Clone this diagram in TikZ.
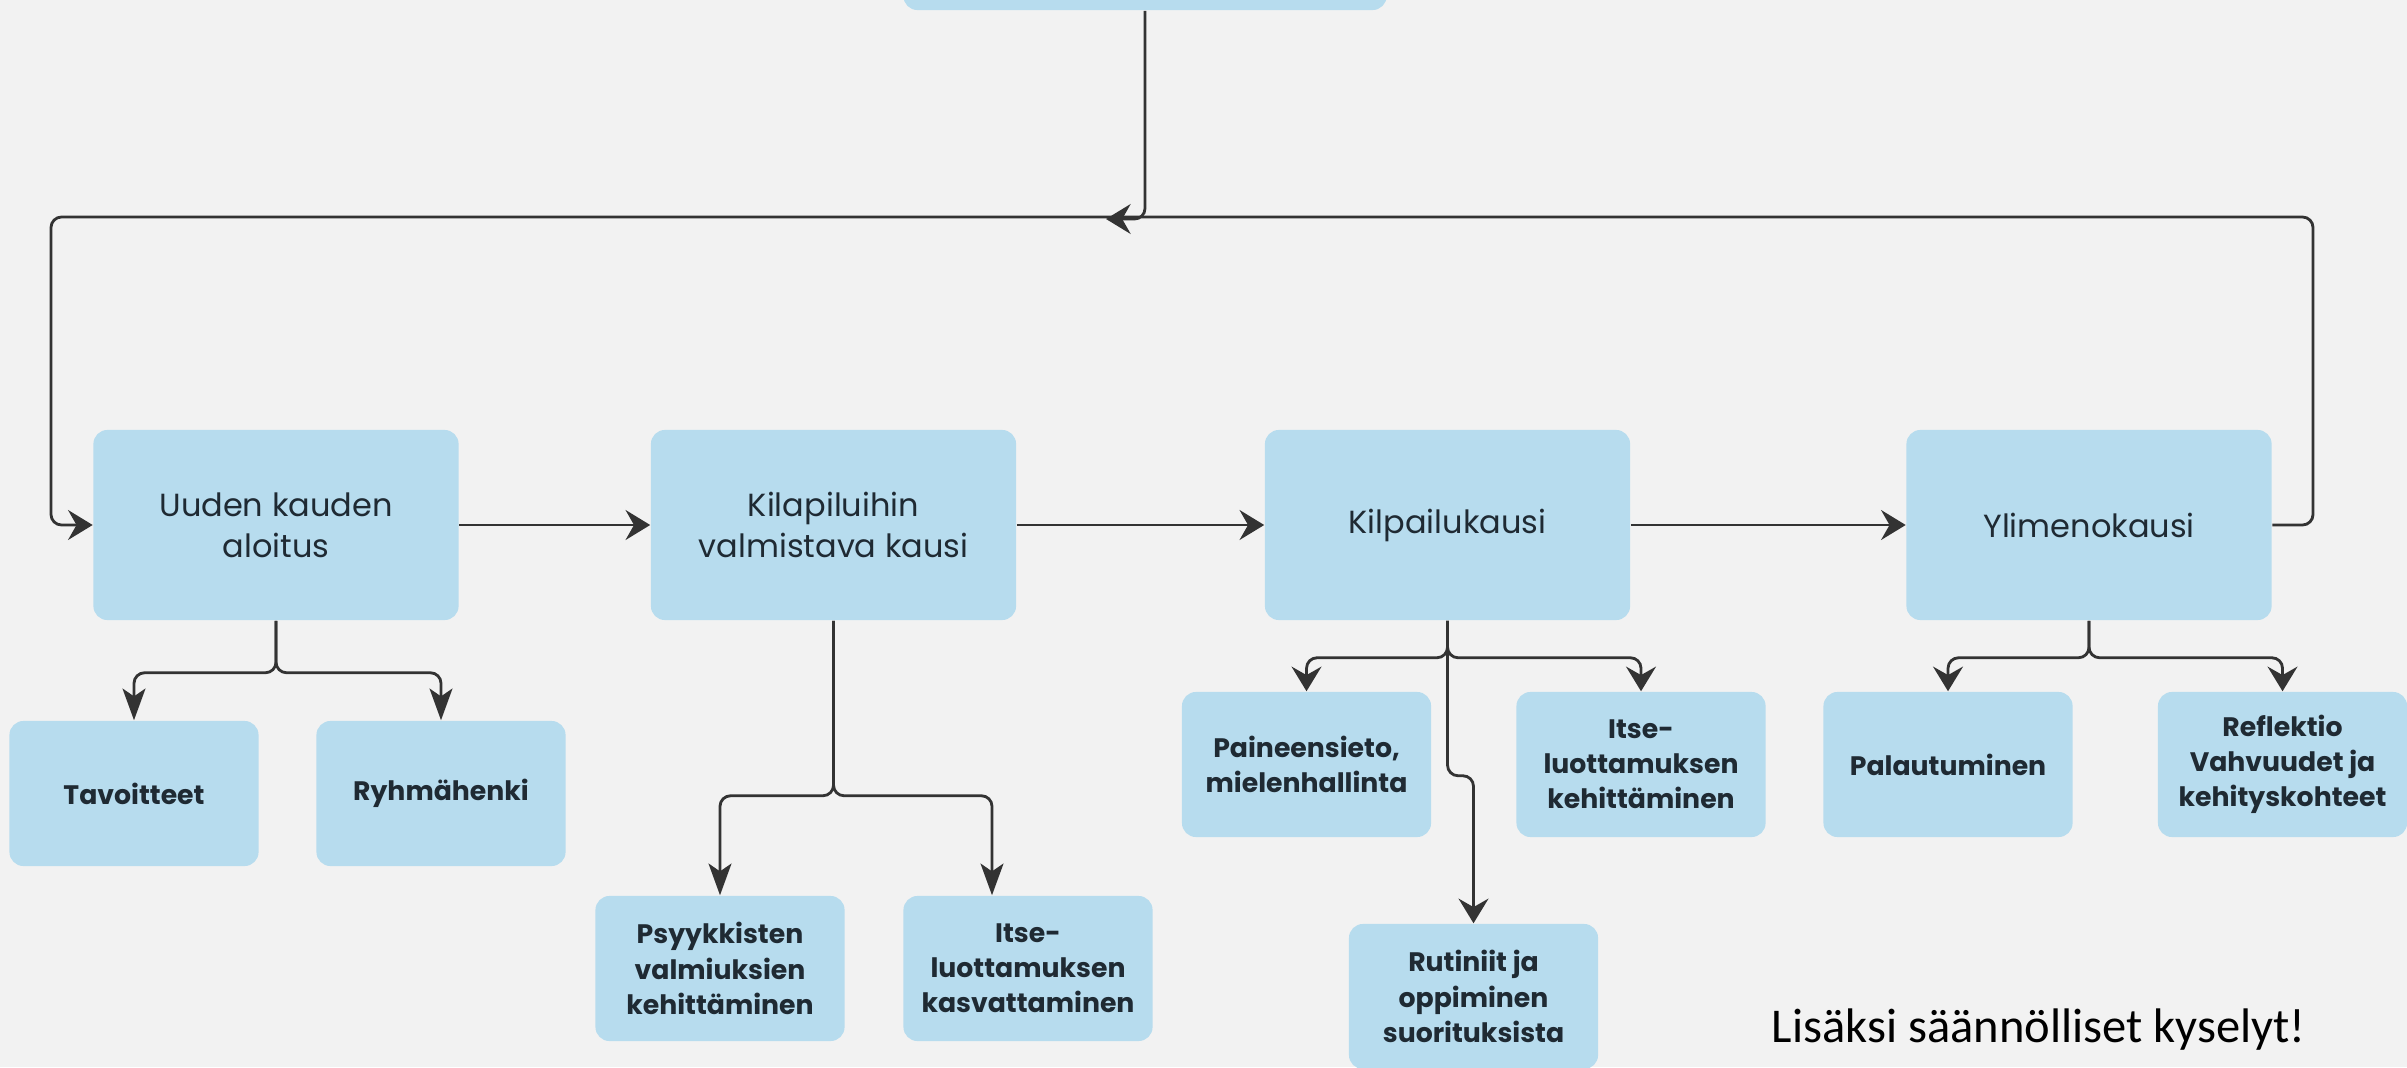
\documentclass[tikz,border=0pt]{standalone}
\usepackage{fontspec}
\setmainfont{Poppins}
\newfontfamily\notefont{Carlito}
\usetikzlibrary{arrows.meta}
\usetikzlibrary{calc}
\definecolor{tausta}{HTML}{F2F2F2}
\definecolor{laatikko}{HTML}{B7DCEE}
\definecolor{viiva}{HTML}{333333}
\definecolor{teksti}{HTML}{1F2A33}

\tikzset{
  vaihe/.style={rectangle, rounded corners=4pt, fill=laatikko, text=teksti, minimum width=3.65cm, minimum height=1.9cm, align=center, font=\fontsize{9.1}{11.7}\selectfont},
  osa/.style={rectangle, rounded corners=4pt, fill=laatikko, text=teksti, minimum width=2.49cm, minimum height=1.45cm, align=center, font=\bfseries\fontsize{7.6}{10}\selectfont},
  yhteys/.style={draw=viiva, line width=0.8pt, rounded corners=3pt, -{Stealth[length=7pt,width=8.5pt,inset=2.4pt]}},
  kapea/.style={yhteys, -{Stealth[length=9pt,width=6.5pt,inset=2.2pt]}}
}

\begin{document}
\begin{tikzpicture}[x=0.01cm, y=-0.01cm]
      \fill[tausta] (0,0) rectangle (2407,1067);
      \useasboundingbox (0,0) rectangle (2407,1067);

      % vaiheet
      \node[vaihe, minimum width=4.83cm] (ylos) at (1145,-85) {};
      \node[vaihe] (uuden) at (276,525) {Uuden kauden\\aloitus};
      \node[vaihe] (kilap) at (833.5,525) {Kilapiluihin\\valmistava kausi};
      \node[vaihe] (kilp) at (1447.5,525) {Kilpailukausi};
      \node[vaihe] (ylim) at (2089,525) {Ylimenokausi};

      % osa-alueet
      \node[osa] (tav) at (134,793.5) {Tavoitteet};
      \node[osa] (ryhma) at (441,793.5) {Ryhmähenki};
      \node[osa] (psyk) at (720,968.5) {Psyykkisten\\valmiuksien\\kehittäminen};
      \node[osa] (kasv) at (1028,968.5) {Itse-\\luottamuksen\\kasvattaminen};
      \node[osa] (paine) at (1306.5,764.5) {Paineensieto,\\mielenhallinta};
      \node[osa] (kehit) at (1641,764.5) {Itse-\\luottamuksen\\kehittäminen};
      \node[osa] (rut) at (1473.5,996.5) {Rutiniit ja\\oppiminen\\suorituksista};
      \node[osa] (palaut) at (1948,764.5) {Palautuminen};
      \node[osa] (refl) at (2282.5,764.5) {Reflektio\\Vahvuudet ja\\kehityskohteet};

      \node[font=\notefont\fontsize{13.8}{15}\selectfont, text=black, anchor=base west, inner sep=0pt] (huom) at (1771,1042) {Lisäksi säännölliset kyselyt!};

      \coordinate (lo-r) at (2313,217);
      \coordinate (lo-l) at (51,217);
      \coordinate (tulo) at (1106,219);

      \draw[yhteys] (uuden) -- (kilap);
      \draw[yhteys] (kilap) -- (kilp);
      \draw[yhteys] (kilp) -- (ylim);
      \draw[yhteys] (ylim.east) -| (lo-r) -- (lo-l) |- (uuden.west);
      \draw[yhteys] (ylos.south) |- (tulo);

      \draw[kapea] (uuden.south) -- ++(0,52) -| (tav.north);
      \draw[kapea] (uuden.south) -- ++(0,52) -| (ryhma.north);
      \draw[kapea] (kilap.south) -- ++(0,175) -| (psyk.north);
      \draw[kapea] (kilap.south) -- ++(0,175) -| ($(kasv.north)+(-36,0)$);
      \draw[yhteys] (kilp.south) -- ++(0,37) -| (paine.north);
      \draw[yhteys] (kilp.south) -- ++(0,37) -| (kehit.north);
      \draw[yhteys] (kilp.south) -- ++(0,155) -| (rut.north);
      \draw[yhteys] (ylim.south) -- ++(0,37) -| (palaut.north);
      \draw[yhteys] (ylim.south) -- ++(0,37) -| (refl.north);
\end{tikzpicture}
\end{document}
